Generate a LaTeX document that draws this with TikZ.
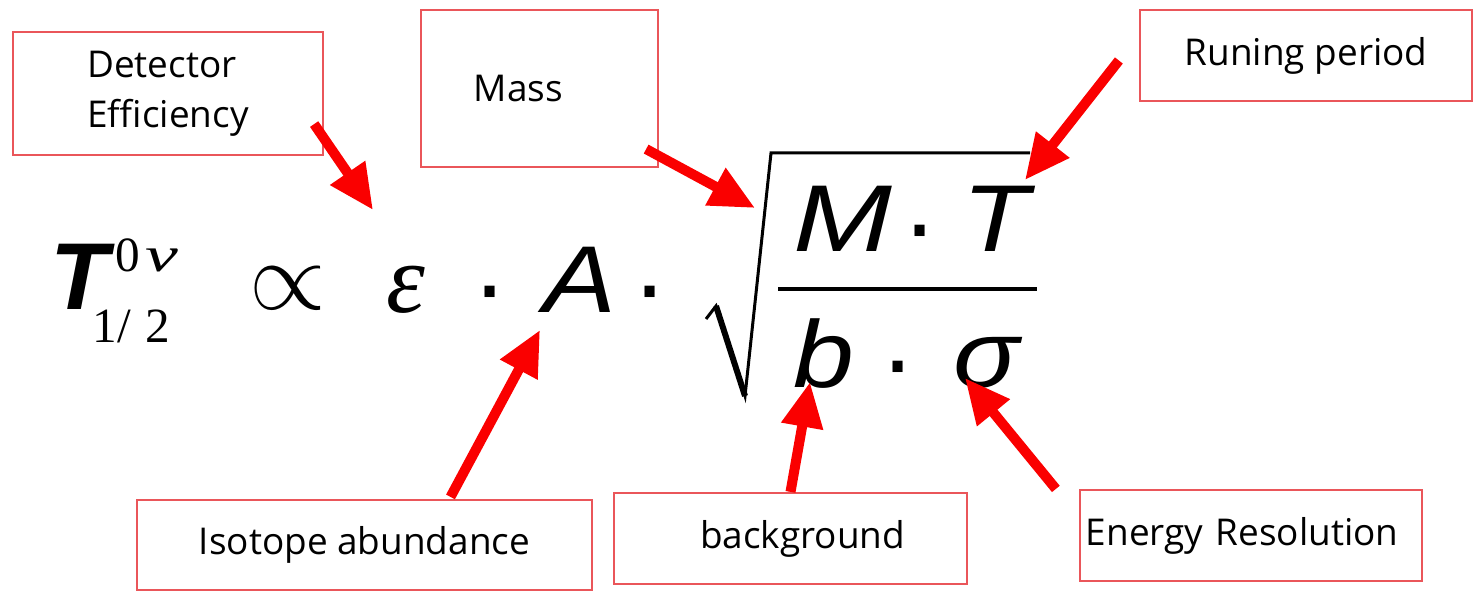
\documentclass[tikz,border=0pt]{standalone}
\usepackage{fontspec}
\setmainfont{Open Sans}
\newfontfamily\symsans{Liberation Sans}
\newfontfamily\symserif{Liberation Serif}
\usetikzlibrary{arrows.meta}
\definecolor{boxred}{RGB}{234,86,90}
\definecolor{arrowred}{RGB}{250,0,0}
\newcommand{\widen}[2][1.15]{\scalebox{#1}[1]{#2}}
\newcommand{\idxfont}{\fontsize{14}{16}\selectfont\mdseries\upshape\symserif}

\begin{document}
\begin{tikzpicture}[x=0.01cm, y=-0.01cm,
    lbl/.style={draw=boxred, line width=0.6pt, align=left,
                font=\fontsize{10.5}{14.2}\selectfont},
    pointer/.style={arrowred, line width=0.1cm,
                    -{Triangle[length=0.45cm, width=0.4cm]}},
    sym/.style={inner sep=0, anchor=base west,
                font=\fontsize{27}{30}\selectfont\symsans\itshape},
    mdot/.style={inner sep=0, anchor=base,
                 font=\fontsize{30}{30}\selectfont\symsans}]
  \useasboundingbox (0,0) rectangle (1474,592);

  % labels
  \node[lbl, minimum width=3.10cm, minimum height=1.23cm] (det) at (168,93.5)
    {Detector\\Efficiency};
  \node[lbl, minimum height=1.57cm, text width=1.31cm, inner xsep=0.53cm] (mass) at (539.5,88.5)
    {Mass};
  \node[lbl, minimum width=3.32cm, minimum height=0.91cm] (run) at (1306,55.5)
    {Runing period};
  \node[lbl, minimum width=4.55cm, minimum height=0.90cm] (iso) at (364.5,545)
    {Isotope abundance};
  \node[lbl, minimum width=3.53cm, minimum height=0.91cm] (bg) at (790.5,538.5)
    {\hspace*{0.24cm}background};
  \node[lbl, minimum height=0.91cm, text width=3.30cm, inner xsep=0.06cm] (ene) at (1251,535.5)
    {Energy Resolution};

  % formula
  \node[sym, font=\fontsize{27}{30}\selectfont\symsans\itshape\bfseries] (thalf) at (50,310)
    {T\makebox[0pt][l]{\hspace{0.07cm}\raisebox{0.38cm}{\idxfont 0\hspace{0.1em}\widen[1.5]{\itshape ν}}}\hspace{-0.16cm}\raisebox{-0.32cm}{\idxfont 1/\hspace{0.3em}2}};
  \node[inner sep=0] (prop) at (288,288) {\scalebox{2.8}{$\propto$}};
  \node[sym, font=\fontsize{28}{30}\selectfont\symserif\itshape] (eps) at (386,313) {ε};
  \node[mdot] (dotA) at (490,321) {·};
  \node[sym] (abund) at (543,313) {\widen{A}};
  \node[mdot] (dotB) at (650,321) {·};
  \node[sym] (numM) at (793,252) {\widen[1.25]{M}};
  \node[mdot] (dotC) at (920,260) {·};
  \node[sym] (numT) at (962,252) {\widen{T}};
  \node[sym] (denb) at (793,388) {\widen{b}};
  \node[mdot] (dotD) at (898,396) {·};
  \node[sym] (sig) at (953,388) {\widen{σ}};

  % root and bar
  \draw[line width=0.03cm, line join=miter] (706,319) -- (716,306) -- (745,396) -- (771,153) -- (1030,153);
  \draw[line width=0.06cm] (716,306) -- (745,396);
  \draw[line width=0.04cm] (778,289) -- (1037,289);

  % arrow tips
  \coordinate (epsTip) at (373,210);
  \coordinate (rootTip) at (755,208);
  \coordinate (numTTip) at (1025,180);
  \coordinate (abundTip) at (540,330);
  \coordinate (denbTip) at (810,382);
  \coordinate (sigTip) at (965,378);

  \draw[pointer] ([shift={(-10,-32)}]det.south east) -- (epsTip);
  \draw[pointer] ([shift={(-13,-19)}]mass.south east) -- (rootTip);
  \draw[pointer] ([shift={(-20,5)}]run.west) -- (numTTip);
  \draw[pointer] ([shift={(86,-2)}]iso.north) -- (abundTip);
  \draw[pointer] (bg.north) -- (denbTip);
  \draw[pointer] (ene.north west) ++(-23,0) -- (sigTip);
\end{tikzpicture}
\end{document}
